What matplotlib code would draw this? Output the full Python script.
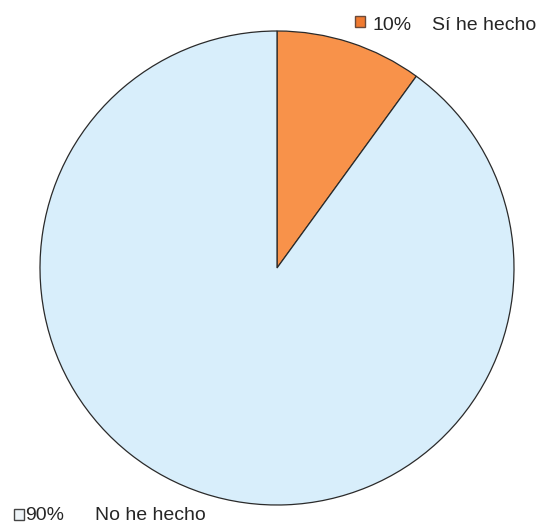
import matplotlib.pyplot as plt

labels = ["Sí he hecho", "No he hecho"]
values = [10, 90]
pct_labels = ["10%", "90%"]
colors = ["#F8924A", "#D8EEFB"]

fig = plt.figure(figsize=(5.43, 5.27), dpi=100)
W, H = 543, 527
cx, cy, r = 277, 527 - 268, 237
ax = fig.add_axes([(cx - r) / W, (cy - r) / H, 2 * r / W, 2 * r / H])
ax.pie(values, colors=colors, startangle=90, counterclock=False,
       wedgeprops=dict(edgecolor="#2a2a2a", linewidth=0.9))
ax.set_xlim(-1, 1)
ax.set_ylim(-1, 1)
ax.set_aspect("auto")
ax.axis("off")

font = dict(family="Liberation Sans", fontsize=14, color="#262626")
# top label
fig.patches.append(plt.Rectangle((355 / W, 1 - 27 / H), 10 / W, 11 / H, transform=fig.transFigure,
                                 facecolor="#F07A30", edgecolor="#6a4a3a", lw=1.0))
fig.text(372 / W, 1 - 30 / H, pct_labels[0], va="baseline", ha="left", **font)
fig.text(432 / W, 1 - 30 / H, labels[0], va="baseline", ha="left", **font)
# bottom label
fig.patches.append(plt.Rectangle((14 / W, 1 - 520 / H), 10 / W, 11 / H, transform=fig.transFigure,
                                 facecolor="#EEF4F8", edgecolor="#444444", lw=1.0))
fig.text(25 / W, 1 - 520 / H, pct_labels[1], va="baseline", ha="left", **font)
fig.text(95 / W, 1 - 520 / H, labels[1], va="baseline", ha="left", **font)

fig.savefig("out.png", dpi=100)
